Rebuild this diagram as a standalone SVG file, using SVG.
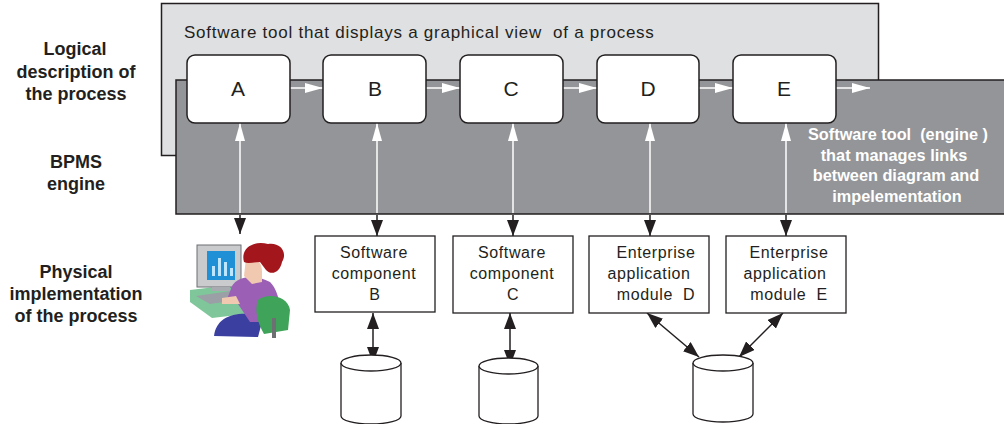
<svg xmlns="http://www.w3.org/2000/svg" width="1004" height="424" viewBox="0 0 1004 424">
  <style>
    .lbl { font-family: "Liberation Sans", Arial, sans-serif; font-weight: bold; font-size: 18px; fill: #231f20; text-anchor: middle; }
    .title { font-family: "Liberation Sans", Arial, sans-serif; font-size: 17px; fill: #231f20; letter-spacing: 0.75px; }
    .step { fill: #ffffff; stroke: #231f20; stroke-width: 1.5; }
    .step-text { font-family: "Liberation Sans", Arial, sans-serif; font-size: 21px; fill: #231f20; text-anchor: middle; }
    .engine-text { font-family: "Liberation Sans", Arial, sans-serif; font-weight: bold; font-size: 16.3px; fill: #ffffff; text-anchor: middle; }
    .impl { fill: #ffffff; stroke: #231f20; stroke-width: 1.3; }
    .impl-text { font-family: "Liberation Sans", Arial, sans-serif; font-size: 16px; fill: #231f20; text-anchor: middle; letter-spacing: 0.6px; }
    .db { fill: #ffffff; stroke: #231f20; stroke-width: 1.3; }
    .wline { stroke: #ffffff; stroke-width: 1.5; fill: none; }
    .bline { stroke: #231f20; stroke-width: 1.5; fill: none; }
  </style>
  <defs>
    <marker id="wHead" viewBox="0 0 18 10" refX="18" refY="5" markerWidth="18" markerHeight="10" markerUnits="userSpaceOnUse" orient="auto">
      <path d="M0,0 L18,5 L0,10 Z" fill="#ffffff"/>
    </marker>
    <marker id="bHead" viewBox="0 0 16 12" refX="16" refY="6" markerWidth="16" markerHeight="12" markerUnits="userSpaceOnUse" orient="auto">
      <path d="M0,0 L16,6 L0,12 Z" fill="#231f20"/>
    </marker>
    <marker id="bHeadStart" viewBox="0 0 16 12" refX="0" refY="6" markerWidth="16" markerHeight="12" markerUnits="userSpaceOnUse" orient="auto">
      <path d="M16,0 L0,6 L16,12 Z" fill="#231f20"/>
    </marker>
  </defs>

  <!-- row captions -->
  <g id="captions">
    <text class="lbl" x="75" y="55">Logical</text>
    <text class="lbl" x="76" y="78">description of</text>
    <text class="lbl" x="76" y="100">the process</text>
    <text class="lbl" x="76" y="168">BPMS</text>
    <text class="lbl" x="76" y="190">engine</text>
    <text class="lbl" x="76" y="278">Physical</text>
    <text class="lbl" x="76" y="300">implementation</text>
    <text class="lbl" x="76" y="322">of the process</text>
  </g>

  <!-- graphical modelling tool panel -->
  <g id="modeller">
    <rect x="161.5" y="3.5" width="717" height="152" fill="#dfe0e2" stroke="#231f20" stroke-width="1.5"/>
    <text class="title" x="184" y="38" xml:space="preserve">Software tool that displays a graphical view  of a process</text>
  </g>

  <!-- BPMS engine panel -->
  <g id="engine">
    <rect x="176" y="80" width="832" height="134" fill="#939598" stroke="#231f20" stroke-width="1.5"/>
    <text class="engine-text" x="898" y="140" xml:space="preserve">Software tool  (engine )</text>
    <text class="engine-text" x="894" y="161">that manages links</text>
    <text class="engine-text" x="896" y="181">between diagram and</text>
    <text class="engine-text" x="897" y="202">impelementation</text>
  </g>

  <!-- connectors -->
  <g id="connectors">
    <!-- process flow -->
    <line class="wline" x1="290" y1="88" x2="323" y2="88" marker-end="url(#wHead)"/>
    <line class="wline" x1="426" y1="88" x2="460" y2="88" marker-end="url(#wHead)"/>
    <line class="wline" x1="563" y1="88" x2="597" y2="88" marker-end="url(#wHead)"/>
    <line class="wline" x1="699" y1="88" x2="733" y2="88" marker-end="url(#wHead)"/>
    <line class="wline" x1="836" y1="88" x2="870" y2="88" marker-end="url(#wHead)"/>
    <!-- links through the engine -->
    <line class="wline" x1="240" y1="213" x2="240" y2="123" marker-end="url(#wHead)"/>
    <line class="wline" x1="377" y1="213" x2="377" y2="123" marker-end="url(#wHead)"/>
    <line class="wline" x1="513" y1="213" x2="513" y2="123" marker-end="url(#wHead)"/>
    <line class="wline" x1="650" y1="213" x2="650" y2="123" marker-end="url(#wHead)"/>
    <line class="wline" x1="786" y1="213" x2="786" y2="123" marker-end="url(#wHead)"/>
    <line class="bline" x1="240" y1="215" x2="240" y2="234" marker-end="url(#bHead)"/>
    <line class="bline" x1="377" y1="215" x2="377" y2="236" marker-end="url(#bHead)"/>
    <line class="bline" x1="513" y1="215" x2="513" y2="236" marker-end="url(#bHead)"/>
    <line class="bline" x1="650" y1="215" x2="650" y2="236" marker-end="url(#bHead)"/>
    <line class="bline" x1="786" y1="215" x2="786" y2="236" marker-end="url(#bHead)"/>
    <!-- data access -->
    <line class="bline" x1="373" y1="313" x2="373" y2="363" marker-start="url(#bHeadStart)" marker-end="url(#bHead)"/>
    <line class="bline" x1="510" y1="313" x2="510" y2="366" marker-start="url(#bHeadStart)" marker-end="url(#bHead)"/>
    <line class="bline" x1="647" y1="313" x2="699" y2="357" marker-start="url(#bHeadStart)" marker-end="url(#bHead)"/>
    <line class="bline" x1="783" y1="313" x2="739" y2="357" marker-start="url(#bHeadStart)" marker-end="url(#bHead)"/>
  </g>

  <!-- process steps -->
  <g id="step-a"><rect class="step" x="187" y="55" width="103" height="68" rx="8"/><text class="step-text" x="238" y="96">A</text></g>
  <g id="step-b"><rect class="step" x="323" y="55" width="103" height="68" rx="8"/><text class="step-text" x="375" y="96">B</text></g>
  <g id="step-c"><rect class="step" x="460" y="55" width="103" height="68" rx="8"/><text class="step-text" x="511" y="96">C</text></g>
  <g id="step-d"><rect class="step" x="597" y="55" width="102" height="68" rx="8"/><text class="step-text" x="648" y="96">D</text></g>
  <g id="step-e"><rect class="step" x="733" y="55" width="103" height="68" rx="8"/><text class="step-text" x="784" y="96">E</text></g>

  <!-- human operator at a workstation -->
  <g id="operator">
    <!-- desk -->
    <path d="M190,290 L240,284 L262,296 L262,312 L212,318 L190,302 Z" fill="#7fc79a"/>
    <path d="M196,296 L238,290 L252,298 L210,304 Z" fill="#9aa0a6"/>
    <!-- monitor -->
    <rect x="197" y="245" width="44" height="42" fill="#c9cbcd" stroke="#6d6f72" stroke-width="1"/>
    <rect x="207" y="251" width="28" height="29" fill="#1f8fd6"/>
    <rect x="212" y="266" width="3" height="10" fill="#bfe6ff"/>
    <rect x="218" y="258" width="3" height="18" fill="#bfe6ff"/>
    <rect x="224" y="262" width="3" height="14" fill="#bfe6ff"/>
    <rect x="230" y="268" width="3" height="8" fill="#bfe6ff"/>
    <rect x="212" y="287" width="18" height="4" fill="#a8abaf"/>
    <!-- skirt -->
    <path d="M214,336 C216,318 232,312 252,314 L262,322 L258,337 Z" fill="#3a3fa0"/>
    <!-- body -->
    <path d="M232,286 C238,276 256,274 270,282 C280,292 282,312 276,322 L250,322 L238,304 L226,302 Z" fill="#9b5fb5"/>
    <!-- arm -->
    <path d="M236,296 L222,298 L222,304 L240,304 Z" fill="#f1c8b0"/>
    <!-- face and neck -->
    <path d="M246,258 C256,256 262,262 262,272 L262,282 L252,284 L244,276 Z" fill="#f1c8b0"/>
    <!-- hair -->
    <path d="M244,262 C240,248 254,240 268,244 C280,242 288,252 282,262 C280,272 272,276 266,270 L260,262 C254,262 248,264 244,262 Z" fill="#a3161b"/>
    <!-- chair -->
    <path d="M258,300 C268,292 288,296 290,310 L288,330 L264,334 C258,324 254,310 258,300 Z" fill="#3fa35a"/>
    <rect x="272" y="318" width="4" height="20" fill="#6d6f72"/>
  </g>

  <!-- physical implementation modules -->
  <g id="sw-b">
    <rect class="impl" x="315" y="236" width="120" height="76"/>
    <text class="impl-text" x="374" y="258">Software</text>
    <text class="impl-text" x="374" y="279">component</text>
    <text class="impl-text" x="375" y="300">B</text>
  </g>
  <g id="sw-c">
    <rect class="impl" x="453" y="236" width="120" height="77"/>
    <text class="impl-text" x="512" y="258">Software</text>
    <text class="impl-text" x="512" y="279">component</text>
    <text class="impl-text" x="513" y="300">C</text>
  </g>
  <g id="eam-d">
    <rect class="impl" x="589" y="236" width="120" height="77"/>
    <text class="impl-text" x="656" y="258">Enterprise</text>
    <text class="impl-text" x="649" y="279">application</text>
    <text class="impl-text" x="656" y="300" xml:space="preserve">module  D</text>
  </g>
  <g id="eam-e">
    <rect class="impl" x="726" y="236" width="120" height="77"/>
    <text class="impl-text" x="789" y="258">Enterprise</text>
    <text class="impl-text" x="785" y="279">application</text>
    <text class="impl-text" x="789" y="300" xml:space="preserve">module  E</text>
  </g>

  <!-- data stores -->
  <g id="db-b">
    <path class="db" d="M341,363 L341,416 A30,8 0 0 0 401,416 L401,363"/>
    <ellipse class="db" cx="371" cy="363" rx="30" ry="8"/>
  </g>
  <g id="db-c">
    <path class="db" d="M479,366 L479,416 A29.5,8 0 0 0 538,416 L538,366"/>
    <ellipse class="db" cx="508.5" cy="366" rx="29.5" ry="8"/>
  </g>
  <g id="db-shared">
    <path class="db" d="M693,363 L693,414 A30,8 0 0 0 753,414 L753,363"/>
    <ellipse class="db" cx="723" cy="363" rx="30" ry="8"/>
  </g>
</svg>
